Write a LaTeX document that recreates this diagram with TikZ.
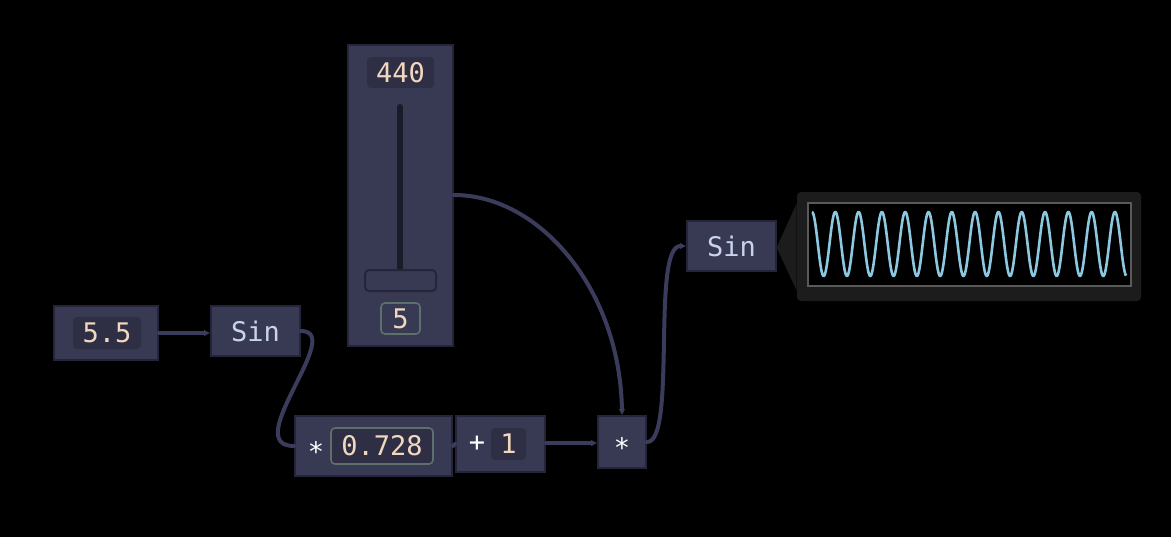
\documentclass[tikz,border=0pt]{standalone}
\usepackage{fontspec}
\setmonofont{DejaVu Sans Mono}
\usepackage{xcolor}
\usetikzlibrary{arrows.meta,positioning,calc}
\definecolor{nodeC}{HTML}{383A53}
\definecolor{edgeC}{HTML}{24253A}
\definecolor{wireC}{HTML}{3B3C5C}
\definecolor{innerC}{HTML}{2E2F44}
\definecolor{valC}{HTML}{F2D7BF}
\definecolor{sinC}{HTML}{C9D3EE}
\definecolor{ringC}{HTML}{5F706C}
\definecolor{trackC}{HTML}{1A1B28}
\definecolor{scopeC}{HTML}{1C1C1C}
\definecolor{glassC}{HTML}{5A5A5A}
\definecolor{waveC}{HTML}{8CC8E0}

\begin{document}
\begin{tikzpicture}[x=0.5pt, y=-0.5pt, font=\ttfamily\fontsize{13.5}{15}\selectfont,
  blk/.style={draw=edgeC, line width=1pt, fill=nodeC, inner sep=0pt, text=sinC},
  val/.style={fill=innerC, rounded corners=2pt, inner sep=0pt, text=valC},
  edit/.style={val, draw=ringC, line width=0.8pt},
  op/.style={text=white, inner sep=0pt, yshift=-2.7pt},
  wire/.style={draw=wireC, line width=2pt, line cap=round},
  arr/.style={wire, -{Triangle[length=3pt,width=2.8pt]}},
  ]
\fill[black] (0,0) rectangle (1171,537);
% ---- the fader
\node[blk, minimum width=52.5pt, minimum height=150.5pt] (fader) at (400.5,195.5) {};
\node[val, minimum width=33.5pt, minimum height=15.5pt] (freq) at (400.5,72.5) {440};
\draw[draw=trackC, line width=3pt, line cap=round] (400,107) -- (400,270);
\node[draw=edgeC, line width=1pt, fill=nodeC, rounded corners=2pt, inner sep=0pt,
      minimum width=35.5pt, minimum height=10.5pt] (knob) at (400.5,280.5) {};
\node[edit, fill=nodeC, minimum width=19.5pt, minimum height=15.5pt] (low) at (400.5,318.5) {5};
% ---- the chain
\node[blk, minimum width=52pt, minimum height=27pt] (num) at (106,333) {};
\node[val, minimum width=34pt, minimum height=16pt] (rate) at (107,333) {5.5};
\node[blk, minimum width=44.5pt, minimum height=25pt] (sinA) at (255.5,331) {Sin};
\node[blk, minimum width=78.5pt, minimum height=30pt] (mulA) at (373.5,446) {};
\node[op] (starA) at (316,446) {*};
\node[edit, minimum width=51pt, minimum height=18pt] (depth) at (382,446) {0.728};
\node[blk, minimum width=44.5pt, minimum height=28pt] (addA) at (500.5,444) {};
\node[op, yshift=2.7pt] (plus) at (477,444) {+};
\node[val, minimum width=17.5pt, minimum height=16pt] (one) at (508.5,444) {1};
\node[blk, minimum width=24pt, minimum height=26pt] (mulB) at (622,442) {};
\node[op] (starB) at (622,442) {*};
\node[blk, minimum width=44.5pt, minimum height=25pt] (sinB) at (731.5,246) {Sin};
% ---- the scope
\node[fill=scopeC, rounded corners=2pt, inner sep=0pt,
      minimum width=172pt, minimum height=54.5pt] (scope) at (969,246.5) {};
\fill[scopeC] ($(scope.west)+(0,-43)$) -- ($(scope.west)+(-20,1)$) -- ($(scope.west)+(0,44)$) -- cycle;
\node[fill=black, draw=glassC, line width=0.6pt, inner sep=0pt,
      minimum width=161.5pt, minimum height=41.5pt] (screen) at (969.5,244.5) {};
\draw[waveC, line width=1.3pt, line join=round]
  plot[domain=812:1126, samples=600] (\x, {244-32*sin(90+(\x-812)*15.45)});
% ---- the wires
\draw[arr] (num.east |- 0,333) -- (sinA.west |- 0,333);
\draw[wire] (sinA.east) .. controls +(45,0) and +(-55,0) .. (mulA.west);
\draw[wire] (mulA.east) -- (addA.west);
\draw[arr] (addA.east |- 0,443) -- (mulB.west |- 0,443);
\draw[arr] (fader.east |- 0,195) .. controls (540,195) and (620,290) .. (mulB.north);
\draw[arr] (mulB.east) .. controls +(30,0) and +(-35,0) .. (sinB.west);
\end{tikzpicture}
\end{document}
